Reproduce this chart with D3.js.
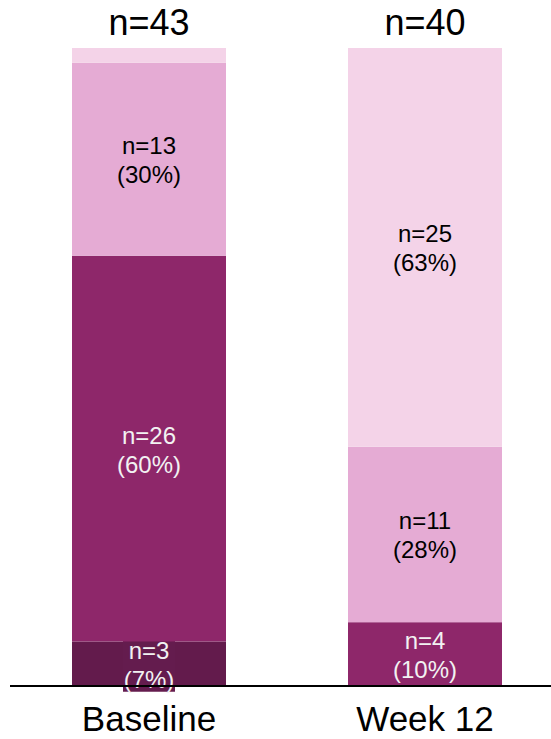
<!DOCTYPE html>
<html>
<head>
<meta charset="utf-8">
<script src="https://cdn.jsdelivr.net/npm/d3@7"></script>
<style>
  body { margin: 0; background: #fff; }
  text { font-family: Arial, "Liberation Sans", sans-serif; }
</style>
</head>
<body>
<svg id="chart" width="551" height="739"></svg>
<script>
// categories and counts per response level (bottom to top)
const groups = ["Baseline", "Week 12"];
const totals = [43, 40];
const levels = ["severe", "moderate", "mild", "none"];
const counts = {
    "Baseline": [3, 26, 13, 1],
    "Week 12": [0, 4, 11, 25]
};
const pctLabels = {
    "Baseline": ["7%", "60%", "30%", ""],
    "Week 12": ["", "10%", "28%", "63%"]
};
const colours = ["#631b4c", "#8e276a", "#e5abd4", "#f4d3e8"];
const textColours = ["#f2f2f2", "#f2f2f2", "#000", "#000"];

const svg = d3.select("#chart");
const baseY = 686;
const topY = 48;
const barW = 154;

// bar left edges
var x = d3.scaleOrdinal().domain(groups).range([72, 348]);
var y = d3.scaleLinear().domain([0, 1]).range([baseY, topY]);

groups.forEach((g, gi) => {
    var cum = 0;
    var total = totals[gi];
    counts[g].forEach((c, i) => {
        if (c === 0) { return; }
        var y0 = cum / total, y1 = (cum + c) / total;
        cum += c;
        svg.append("rect")
            .attr("x", x(g))
            .attr("y", y(y1))
            .attr("width", barW)
            .attr("height", y(y0) - y(y1))
            .attr("fill", colours[i]);
        if (pctLabels[g][i] === "") { return; }
        var cy = (y(y0) + y(y1)) / 2;
        var cx = x(g) + barW / 2;
        var lab = svg.append("g");
        if (g === "Baseline" && i === 0) {
            // label background sticking out of the thin segment
            lab.append("rect")
                .attr("x", cx - 26)
                .attr("y", cy - 27)
                .attr("width", 52)
                .attr("height", 55)
                .attr("fill", "#641c4e");
        }
        lab.append("text")
            .attr("x", cx)
            .attr("y", cy - 5)
            .attr("text-anchor", "middle")
            .attr("font-size", 24)
            .attr("fill", textColours[i])
            .text("n=" + c);
        lab.append("text")
            .attr("x", cx)
            .attr("y", cy + 24)
            .attr("text-anchor", "middle")
            .attr("font-size", 24)
            .attr("fill", textColours[i])
            .text("(" + pctLabels[g][i] + ")");
    });

    svg.append("text")
        .attr("x", x(g) + barW / 2)
        .attr("y", 35)
        .attr("text-anchor", "middle")
        .attr("font-size", 36)
        .text("n=" + total);

    svg.append("text")
        .attr("x", x(g) + barW / 2)
        .attr("y", 731)
        .attr("text-anchor", "middle")
        .attr("font-size", 35)
        .text(g);
});

svg.append("line")
    .attr("x1", 10)
    .attr("x2", 551)
    .attr("y1", baseY)
    .attr("y2", baseY)
    .attr("stroke", "#000")
    .attr("stroke-width", 2);
</script>
</body>
</html>
